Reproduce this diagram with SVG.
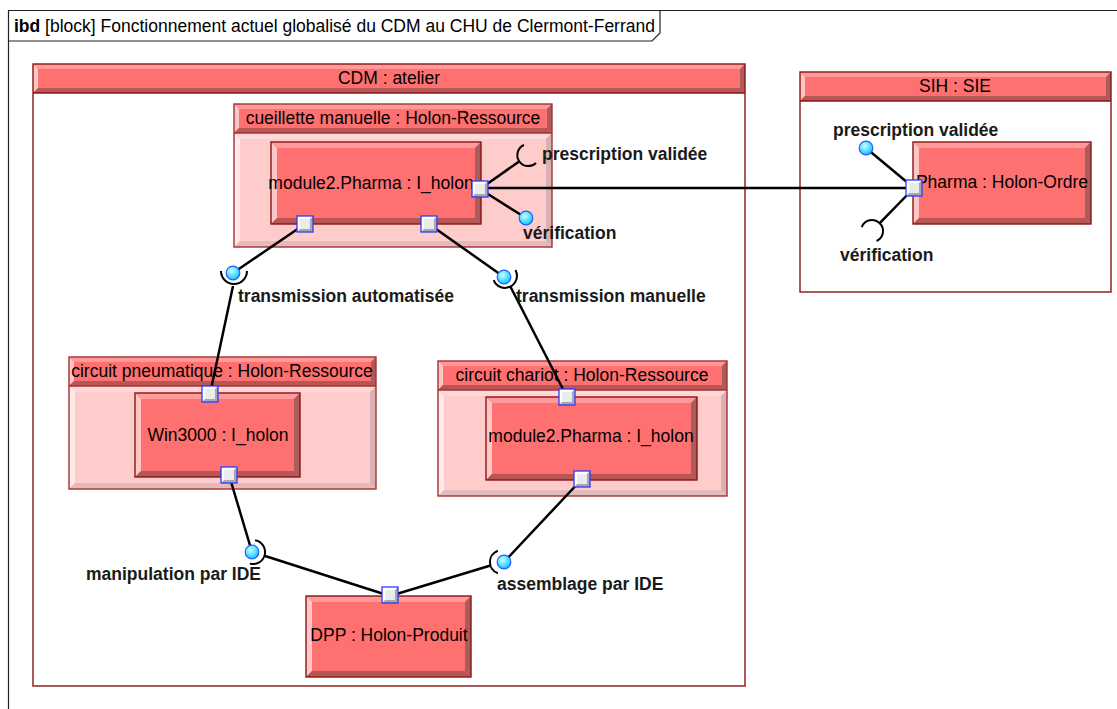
<svg xmlns="http://www.w3.org/2000/svg" xmlns:xlink="http://www.w3.org/1999/xlink" width="1117" height="709" viewBox="0 0 1117 709">
<style>
text{font-family:"Liberation Sans",Arial,sans-serif;font-size:17.5px;fill:#000}
.lbl{font-weight:bold;fill:#1a1a1a}
.mid{text-anchor:middle}
.hf{fill:#ff7070}.ht{fill:#ff9a9a}.hl{fill:#ffc6c6}.hr{fill:#a85c5c}.hb{fill:#b85555}
.pf{fill:#ffcccc}.pt{fill:#ffd9d9}.pl{fill:#ffe9e9}.pr{fill:#d8b2b2}.pb{fill:#e2bcbc}
.bd{fill:none;stroke:#8b1515;stroke-width:1.4}
.bdl{fill:none;stroke:#a83030;stroke-width:1.4}
.wire{fill:none;stroke:#000;stroke-width:2.5}
.sock{fill:none;stroke:#000;stroke-width:2}
</style>
<defs>
<radialGradient id="ballg" cx="0.4" cy="0.35" r="0.7">
<stop offset="0" stop-color="#c8ffff"/>
<stop offset="1" stop-color="#00c4ff"/>
</radialGradient>
<g id="port">
<rect x="-8" y="-8" width="16" height="16" fill="#a8a8a8"/>
<polygon points="-8,-8 8,-8 5,-5 -5,-5 -5,5 -8,8" fill="#ffffff"/>
<rect x="-5" y="-5" width="10" height="10" fill="#ebebeb"/>
<rect x="-8" y="-8" width="16" height="16" fill="none" stroke="#2a3cff" stroke-width="1.3"/>
</g>
<circle id="ball" r="6.8" fill="url(#ballg)" stroke="#1d5cff" stroke-width="1.2"/>
</defs>

<g id="frame">
<rect x="0" y="0" width="1117" height="709" fill="#ffffff"/>
<path d="M8.5,709 V10.5 H1117" fill="none" stroke="#222" stroke-width="1.2"/>
<path d="M8.5,41 H652 L660,33 V10.5" fill="none" stroke="#222" stroke-width="1.2"/>
<text x="14" y="32"><tspan font-weight="bold">ibd</tspan> [block] Fonctionnement actuel globalisé du CDM au CHU de Clermont-Ferrand</text>
</g>

<g id="cdm">
<rect x="33" y="93" width="712" height="593" fill="#ffffff"/>
<rect class="hf" x="33" y="64" width="712" height="29"/>
<polygon class="ht" points="33,64 745,64 740,69 38,69"/>
<polygon class="hl" points="33,64 38,69 38,88 33,93"/>
<polygon class="hr" points="745,64 745,93 740,88 740,69"/>
<polygon class="hb" points="33,93 745,93 740,88 38,88"/>
<rect class="hf" x="38" y="69" width="702" height="19"/>
<line x1="33" y1="93" x2="745" y2="93" stroke="#8b1515" stroke-width="1.4"/>
<rect class="bd" x="33" y="64" width="712" height="622"/>
<text class="mid" x="389" y="84">CDM : atelier</text>
</g>

<g id="sih">
<rect x="800" y="101" width="311" height="191" fill="#ffffff"/>
<rect class="hf" x="800" y="72" width="311" height="29"/>
<polygon class="ht" points="800,72 1111,72 1106,77 805,77"/>
<polygon class="hl" points="800,72 805,77 805,96 800,101"/>
<polygon class="hr" points="1111,72 1111,101 1106,96 1106,77"/>
<polygon class="hb" points="800,101 1111,101 1106,96 805,96"/>
<rect class="hf" x="805" y="77" width="301" height="19"/>
<line x1="800" y1="101" x2="1111" y2="101" stroke="#8b1515" stroke-width="1.4"/>
<rect class="bd" x="800" y="72" width="311" height="220"/>
<text class="mid" x="955" y="92">SIH : SIE</text>
</g>

<g id="cueillette">
<rect class="hf" x="234" y="104" width="318" height="29"/>
<polygon class="ht" points="234,104 552,104 547,109 239,109"/>
<polygon class="hl" points="234,104 239,109 239,128 234,133"/>
<polygon class="hr" points="552,104 552,133 547,128 547,109"/>
<polygon class="hb" points="234,133 552,133 547,128 239,128"/>
<rect class="hf" x="239" y="109" width="308" height="19"/>
<rect class="pf" x="234" y="133" width="318" height="114"/>
<polygon class="pt" points="234,133 552,133 546,139 240,139"/>
<polygon class="pl" points="234,133 240,139 240,241 234,247"/>
<polygon class="pr" points="552,133 552,247 546,241 546,139"/>
<polygon class="pb" points="234,247 552,247 546,241 240,241"/>
<rect class="pf" x="240" y="139" width="306" height="102"/>
<line x1="234" y1="133" x2="552" y2="133" stroke="#a83030" stroke-width="1.4"/>
<rect class="bdl" x="234" y="104" width="318" height="143"/>
<text class="mid" x="393" y="124">cueillette manuelle : Holon-Ressource</text>
</g>

<g id="module2-pharma-1">
<rect class="hf" x="271" y="142" width="210" height="82"/>
<polygon class="ht" points="271,142 481,142 475,148 277,148"/>
<polygon class="hl" points="271,142 277,148 277,218 271,224"/>
<polygon class="hr" points="481,142 481,224 475,218 475,148"/>
<polygon class="hb" points="271,224 481,224 475,218 277,218"/>
<rect class="hf" x="277" y="148" width="198" height="70"/>
<rect class="bd" x="271" y="142" width="210" height="82"/>
<text class="mid" x="371" y="189">module2.Pharma : I_holon</text>
</g>

<g id="pneumatique">
<rect class="hf" x="69" y="357" width="307" height="29"/>
<polygon class="ht" points="69,357 376,357 371,362 74,362"/>
<polygon class="hl" points="69,357 74,362 74,381 69,386"/>
<polygon class="hr" points="376,357 376,386 371,381 371,362"/>
<polygon class="hb" points="69,386 376,386 371,381 74,381"/>
<rect class="hf" x="74" y="362" width="297" height="19"/>
<rect class="pf" x="69" y="386" width="307" height="103"/>
<polygon class="pt" points="69,386 376,386 370,392 75,392"/>
<polygon class="pl" points="69,386 75,392 75,483 69,489"/>
<polygon class="pr" points="376,386 376,489 370,483 370,392"/>
<polygon class="pb" points="69,489 376,489 370,483 75,483"/>
<rect class="pf" x="75" y="392" width="295" height="91"/>
<line x1="69" y1="386" x2="376" y2="386" stroke="#a83030" stroke-width="1.4"/>
<rect class="bdl" x="69" y="357" width="307" height="132"/>
<text class="mid" x="222" y="377">circuit pneumatique : Holon-Ressource</text>
</g>

<g id="win3000">
<rect class="hf" x="135" y="393" width="165" height="84"/>
<polygon class="ht" points="135,393 300,393 294,399 141,399"/>
<polygon class="hl" points="135,393 141,399 141,471 135,477"/>
<polygon class="hr" points="300,393 300,477 294,471 294,399"/>
<polygon class="hb" points="135,477 300,477 294,471 141,471"/>
<rect class="hf" x="141" y="399" width="153" height="72"/>
<rect class="bd" x="135" y="393" width="165" height="84"/>
<text class="mid" x="218" y="441">Win3000 : I_holon</text>
</g>

<g id="chariot">
<rect class="hf" x="438" y="361" width="289" height="29"/>
<polygon class="ht" points="438,361 727,361 722,366 443,366"/>
<polygon class="hl" points="438,361 443,366 443,385 438,390"/>
<polygon class="hr" points="727,361 727,390 722,385 722,366"/>
<polygon class="hb" points="438,390 727,390 722,385 443,385"/>
<rect class="hf" x="443" y="366" width="279" height="19"/>
<rect class="pf" x="438" y="390" width="289" height="106"/>
<polygon class="pt" points="438,390 727,390 721,396 444,396"/>
<polygon class="pl" points="438,390 444,396 444,490 438,496"/>
<polygon class="pr" points="727,390 727,496 721,490 721,396"/>
<polygon class="pb" points="438,496 727,496 721,490 444,490"/>
<rect class="pf" x="444" y="396" width="277" height="94"/>
<line x1="438" y1="390" x2="727" y2="390" stroke="#a83030" stroke-width="1.4"/>
<rect class="bdl" x="438" y="361" width="289" height="135"/>
<text class="mid" x="582" y="381">circuit chariot : Holon-Ressource</text>
</g>

<g id="module2-pharma-2">
<rect class="hf" x="486" y="397" width="211" height="83"/>
<polygon class="ht" points="486,397 697,397 691,403 492,403"/>
<polygon class="hl" points="486,397 492,403 492,474 486,480"/>
<polygon class="hr" points="697,397 697,480 691,474 691,403"/>
<polygon class="hb" points="486,480 697,480 691,474 492,474"/>
<rect class="hf" x="492" y="403" width="199" height="71"/>
<rect class="bd" x="486" y="397" width="211" height="83"/>
<text class="mid" x="591" y="442">module2.Pharma : I_holon</text>
</g>

<g id="dpp">
<rect class="hf" x="306" y="596" width="165" height="81"/>
<polygon class="ht" points="306,596 471,596 465,602 312,602"/>
<polygon class="hl" points="306,596 312,602 312,671 306,677"/>
<polygon class="hr" points="471,596 471,677 465,671 465,602"/>
<polygon class="hb" points="306,677 471,677 465,671 312,671"/>
<rect class="hf" x="312" y="602" width="153" height="69"/>
<rect class="bd" x="306" y="596" width="165" height="81"/>
<text class="mid" x="389" y="641">DPP : Holon-Produit</text>
</g>

<g id="pharma-ordre">
<rect class="hf" x="913" y="142" width="178" height="82"/>
<polygon class="ht" points="913,142 1091,142 1085,148 919,148"/>
<polygon class="hl" points="913,142 919,148 919,218 913,224"/>
<polygon class="hr" points="1091,142 1091,224 1085,218 1085,148"/>
<polygon class="hb" points="913,224 1091,224 1085,218 919,218"/>
<rect class="hf" x="919" y="148" width="166" height="70"/>
<rect class="bd" x="913" y="142" width="178" height="82"/>
<text class="mid" x="1002" y="188">Pharma : Holon-Ordre</text>
</g>

<g id="connectors">
<line class="wire" x1="480" y1="188" x2="914" y2="188"/>
<line class="wire" x1="480" y1="189" x2="518.8" y2="161.7"/>
<line class="wire" x1="480" y1="189" x2="526" y2="218"/>
<line class="wire" x1="914" y1="188" x2="866" y2="148"/>
<line class="wire" x1="914" y1="188" x2="879.7" y2="223.1"/>
<line class="wire" x1="305" y1="224" x2="233" y2="273"/>
<line class="wire" x1="233" y1="286" x2="210" y2="394"/>
<line class="wire" x1="429" y1="224" x2="504" y2="277"/>
<line class="wire" x1="510.5" y1="286.7" x2="567" y2="397"/>
<line class="wire" x1="229" y1="475" x2="252" y2="552"/>
<line class="wire" x1="264.4" y1="555.7" x2="390" y2="596"/>
<line class="wire" x1="582" y1="479" x2="504" y2="562"/>
<line class="wire" x1="490.5" y1="565.5" x2="390" y2="596"/>
<path class="sock" d="M524,145 A11,11 0 1 0 536,163"/>
<path class="sock" d="M861.7,227.2 A11,11 0 1 1 876.6,241"/>
<path class="sock" d="M221,271 A13,13 0 0 0 247,271"/>
<path class="sock" d="M515.4,270 A12,12 0 1 1 493.7,280.1"/>
<path class="sock" d="M255.1,540.2 A12,12 0 1 1 249.9,563.6"/>
<path class="sock" d="M497.9,550.7 A12,12 0 0 0 497.9,573.3"/>
<use xlink:href="#ball" x="526" y="218"/>
<use xlink:href="#ball" x="866" y="148"/>
<use xlink:href="#ball" x="233" y="273"/>
<use xlink:href="#ball" x="504" y="277"/>
<use xlink:href="#ball" x="252" y="552"/>
<use xlink:href="#ball" x="504" y="562"/>
</g>

<g id="ports">
<use xlink:href="#port" x="480" y="189"/>
<use xlink:href="#port" x="305" y="224"/>
<use xlink:href="#port" x="429" y="224"/>
<use xlink:href="#port" x="914" y="188"/>
<use xlink:href="#port" x="210" y="394"/>
<use xlink:href="#port" x="229" y="475"/>
<use xlink:href="#port" x="567" y="397"/>
<use xlink:href="#port" x="582" y="479"/>
<use xlink:href="#port" x="390" y="595"/>
</g>

<g id="labels">
<text class="lbl" x="542" y="160">prescription validée</text>
<text class="lbl" x="523" y="239">vérification</text>
<text class="lbl" x="833" y="136">prescription validée</text>
<text class="lbl" x="840" y="261">vérification</text>
<text class="lbl" x="238" y="302">transmission automatisée</text>
<text class="lbl" x="516" y="302">transmission manuelle</text>
<text class="lbl" x="86" y="580">manipulation par IDE</text>
<text class="lbl" x="497" y="590">assemblage par IDE</text>
</g>
</svg>
